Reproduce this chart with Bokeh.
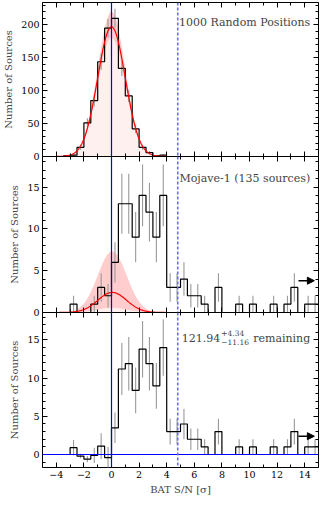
import numpy as np
from bokeh.plotting import figure
from bokeh.models import (Range1d, LinearAxis, Span, Label, Arrow, NormalHead,
                          SingleIntervalTicker, CustomJSTickFormatter)
from bokeh.layouts import column
from bokeh.embed import file_html
from bokeh.resources import INLINE

# ---------------- data ----------------
bin_width = 0.5

# Panel 1: 1000 random positions
rand_first_edge = -3.5
rand_counts = [1, 2, 14, 51, 85, 144, 195, 210, 134, 92, 42, 14, 6, 1, 2]
rand_errors = [1.0, 1.4, 3.7, 7.1, 9.2, 12.0, 14.0, 14.5, 11.6, 9.6, 6.5, 3.7, 2.4, 1.0, 1.4]

# Panel 2: Mojave-1 (135 sources)
moj_first_edge = -5.0
moj_counts = [0, 0, 0, 0, 1, 0, 0, 1, 3, 2, 6, 13, 13, 9, 14, 12, 9, 14,
              3, 3, 4, 2, 2, 1, 0, 3, 0, 0, 1, 0, 1, 0, 0, 1, 0, 1, 3, 0, 1, 1]
moj_errors = [0, 0, 0, 0, 1.0, 0, 0, 1.0, 1.7, 1.4, 2.4, 3.6, 3.6, 3.0, 3.7, 3.5, 3.0, 3.7,
              1.7, 1.7, 2.0, 1.4, 1.4, 1.0, 0, 1.7, 0, 0, 1.0, 0, 1.0, 0, 0, 1.0, 0, 1.0, 1.7, 0, 1.0, 1.0]

# Panel 3: remaining after subtraction
rem_first_edge = -5.0
rem_counts = [0, 0, 0, 0, 0.9, -0.2, -0.6, -0.1, 1.1, -0.4, 3.5, 11.2, 11.9, 8.4, 13.8, 11.9, 9.0, 14.0,
              3, 3, 4, 2, 2, 1, 0, 3, 0, 0, 1, 0, 1, 0, 0, 1, 0, 1, 3, 0, 1, 1]
rem_errors = [0, 0, 0, 0, 1.0, 0.3, 0.4, 1.0, 1.7, 1.4, 2.0, 3.4, 3.5, 3.0, 3.7, 3.5, 3.0, 3.7,
              1.7, 1.7, 2.0, 1.4, 1.4, 1.0, 0, 1.7, 0, 0, 1.0, 0, 1.0, 0, 0, 1.0, 0, 1.0, 1.7, 0, 1.0, 1.0]

# Gaussian fit parameters (peak heights per bin, centre, width)
rand_fit_mu, rand_fit_sigma = 0.0, 1.0
rand_fit_peak, rand_fit_peak_lo, rand_fit_peak_hi = 197.0, 180.0, 220.0
moj_fit_mu, moj_fit_sigma = 0.05, 1.05
moj_fit_peak, moj_fit_peak_lo, moj_fit_peak_hi = 2.4, 0.56, 7.3

snr_threshold = 4.8
panel_titles = ["1000 Random Positions", "Mojave-1 (135 sources)"]
remaining_value, remaining_up, remaining_down = "121.94", "+4.34", "\u221211.16"
x_label = "BAT S/N [\u03c3]"
y_label = "Number of Sources"

# ---------------- styling ----------------
FONT = "DejaVu Serif"
W = 320
LB = 34
RB = 2
GAP = 7          # room under panels 1/2 for their "0" label; next panel overlaps it
TICK_FS = "9.5px"
LAB_FS = "10px"
ANN_FS = "11px"
BAND = "#ffcdcd"
LIGHT = "#fff0f0"
ERR = "#9a9a9a"


def style_axis(ax, labeled):
    ax.major_tick_in = 5
    ax.major_tick_out = 0
    ax.minor_tick_in = 3
    ax.minor_tick_out = 0
    ax.major_tick_line_color = "black"
    ax.minor_tick_line_color = "black"
    ax.axis_line_color = None
    if labeled:
        ax.major_label_text_font = FONT
        ax.major_label_text_font_size = TICK_FS
        ax.major_label_text_color = "black"
        ax.major_label_standoff = 3
    else:
        ax.major_label_text_font_size = "0px"
        ax.major_label_text_color = None
        ax.major_label_standoff = 0


def panel(height, yr, ytick, top_border, bottom_border, show_x_labels, overlap_above):
    p = figure(width=W, height=height, x_range=Range1d(-5, 15), y_range=Range1d(*yr),
               output_backend="svg", toolbar_location=None,
               x_axis_type=None, y_axis_type=None,
               min_border_left=LB, min_border_right=RB,
               min_border_top=top_border, min_border_bottom=bottom_border)
    p.outline_line_color = "black"
    p.outline_line_width = 1
    p.background_fill_color = "white"
    p.border_fill_color = None
    if overlap_above:
        p.styles = {"margin-top": f"-{GAP}px"}
    xfmt = CustomJSTickFormatter(code="return (tick < 0 ? '\u2212' : '') + Math.abs(tick);")
    for loc in ["below", "above"]:
        ax = LinearAxis(ticker=SingleIntervalTicker(interval=2, num_minor_ticks=2), formatter=xfmt)
        labeled = show_x_labels and loc == "below"
        style_axis(ax, labeled)
        if labeled:
            ax.axis_label = x_label
            ax.axis_label_text_font = FONT
            ax.axis_label_text_font_size = LAB_FS
            ax.axis_label_text_font_style = "normal"
            ax.axis_label_standoff = 3
        p.add_layout(ax, loc)
    for loc in ["left", "right"]:
        ax = LinearAxis(ticker=SingleIntervalTicker(interval=ytick, num_minor_ticks=5))
        style_axis(ax, loc == "left")
        if loc == "left":
            ax.axis_label = y_label
            ax.axis_label_text_font = FONT
            ax.axis_label_text_font_size = LAB_FS
            ax.axis_label_text_font_style = "normal"
            ax.axis_label_standoff = 4
        p.add_layout(ax, loc)
    return p


def hist(p, first_edge, counts, errors):
    n = len(counts)
    edges = first_edge + bin_width * np.arange(n + 1)
    centers = edges[:-1] + bin_width / 2
    c = np.asarray(counts, float)
    e = np.asarray(errors, float)
    m = e > 0
    p.segment(x0=centers[m], y0=(c - e)[m], x1=centers[m], y1=(c + e)[m],
              line_color=ERR, line_width=1.1)
    p.step(x=edges, y=np.append(c, c[-1]), mode="after", line_color="black", line_width=1.2)


def gauss(x, peak, mu, sig):
    return peak * np.exp(-0.5 * ((x - mu) / sig) ** 2)


def vlines(p):
    p.add_layout(Span(location=0, dimension="height", line_color="blue", line_width=1.2))
    p.add_layout(Span(location=snr_threshold, dimension="height", line_color="#6b6bff",
                      line_width=1.6, line_dash="3 2"))


# ---------------- panel 1 ----------------
p1 = panel(2 + 154 + GAP, (0, 234), 50, 2, GAP, False, False)
xs1 = np.linspace(-4, 4, 400)
lo1 = gauss(xs1, rand_fit_peak_lo, rand_fit_mu, rand_fit_sigma)
hi1 = gauss(xs1, rand_fit_peak_hi, rand_fit_mu, rand_fit_sigma)
p1.varea(x=xs1, y1=0, y2=lo1, fill_color=LIGHT)
p1.varea(x=xs1, y1=lo1, y2=hi1, fill_color=BAND)
hist(p1, rand_first_edge, rand_counts, rand_errors)
p1.line(xs1, gauss(xs1, rand_fit_peak, rand_fit_mu, rand_fit_sigma), line_color="red", line_width=1.2)
vlines(p1)
p1.add_layout(Label(x=14.4, y=204, text=panel_titles[0], text_align="right",
                    text_baseline="middle", text_font=FONT, text_font_size=ANN_FS))

# ---------------- panel 2 ----------------
p2 = panel(156 + GAP, (0, 18.65), 5, 0, GAP, False, True)
xs2 = np.linspace(-5, 15, 800)
lo2 = gauss(xs2, moj_fit_peak_lo, moj_fit_mu, moj_fit_sigma)
hi2 = gauss(xs2, moj_fit_peak_hi, moj_fit_mu, moj_fit_sigma)
p2.varea(x=xs2, y1=0, y2=lo2, fill_color=LIGHT)
p2.varea(x=xs2, y1=lo2, y2=hi2, fill_color=BAND)
hist(p2, moj_first_edge, moj_counts, moj_errors)
p2.line(xs2, gauss(xs2, moj_fit_peak, moj_fit_mu, moj_fit_sigma), line_color="red", line_width=1.2)
vlines(p2)
p2.add_layout(Label(x=14.4, y=16.0, text=panel_titles[1], text_align="right",
                    text_baseline="middle", text_font=FONT, text_font_size=ANN_FS))
p2.add_layout(Arrow(end=NormalHead(size=7, fill_color="black", line_color="black"),
                    x_start=13.55, y_start=3.8, x_end=14.7, y_end=3.8,
                    line_color="black", line_width=1.6))

# ---------------- panel 3 ----------------
p3 = panel(155 + 30, (-1.7, 18.6), 5, 0, 30, True, True)
hist(p3, rem_first_edge, rem_counts, rem_errors)
p3.add_layout(Span(location=0, dimension="width", line_color="blue", line_width=1.2))
vlines(p3)
ax_x, ax_y = 14.4, 15.2
p3.add_layout(Label(x=ax_x, y=ax_y, text="remaining", text_align="right",
                    text_baseline="alphabetic", text_font=FONT, text_font_size=ANN_FS))
p3.add_layout(Label(x=ax_x, y=ax_y, x_offset=-89, y_offset=5, text=remaining_up, text_align="left",
                    text_baseline="alphabetic", text_font=FONT, text_font_size="7.5px"))
p3.add_layout(Label(x=ax_x, y=ax_y, x_offset=-89, y_offset=-4, text=remaining_down, text_align="left",
                    text_baseline="alphabetic", text_font=FONT, text_font_size="7.5px"))
p3.add_layout(Label(x=ax_x, y=ax_y, x_offset=-90, text=remaining_value, text_align="right",
                    text_baseline="alphabetic", text_font=FONT, text_font_size=ANN_FS))
p3.add_layout(Arrow(end=NormalHead(size=7, fill_color="black", line_color="black"),
                    x_start=13.55, y_start=2.4, x_end=14.7, y_end=2.4,
                    line_color="black", line_width=1.6))

layout = column(p1, p2, p3, spacing=0)
open("out.html", "w").write(file_html(layout, INLINE))
